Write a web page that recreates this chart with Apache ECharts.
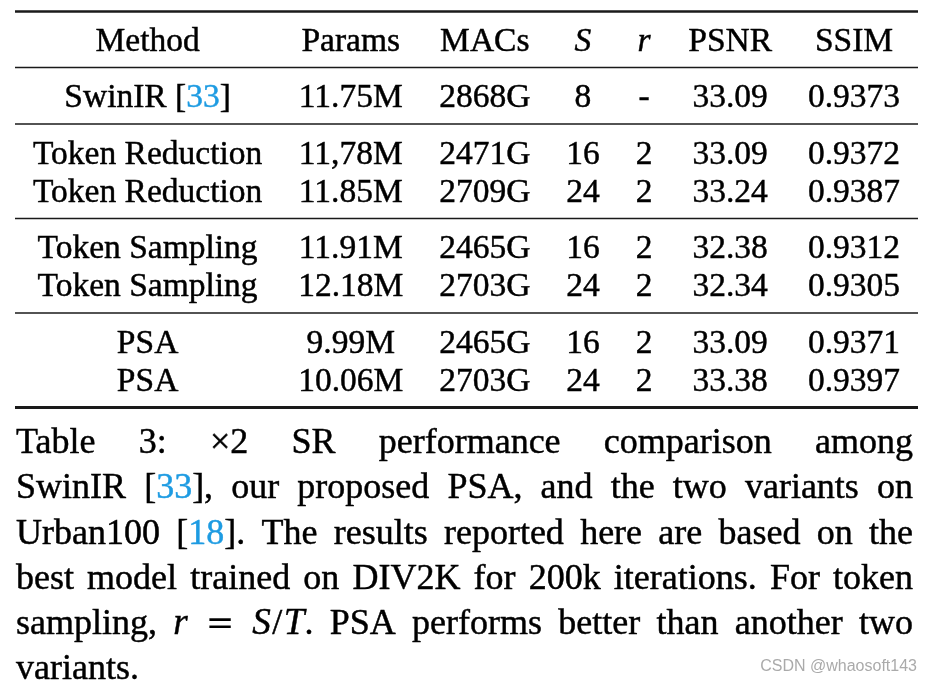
<!DOCTYPE html>
<html><head><meta charset="utf-8">
<script src="https://cdn.jsdelivr.net/npm/echarts@6/dist/echarts.min.js"></script>
<style>html,body{margin:0;padding:0;background:#fff}#c{width:932px;height:685px}</style>
</head><body><div id="c"></div>
<script>
// ---- data ----
const headers = ['Method', 'Params', 'MACs', 'S', 'r', 'PSNR', 'SSIM'];
const headerItalic = [false, false, false, true, true, false, false];
const methods = ['SwinIR [{b|33}]', 'Token Reduction', 'Token Reduction', 'Token Sampling', 'Token Sampling', 'PSA', 'PSA'];
const params = ['11.75M', '11,78M', '11.85M', '11.91M', '12.18M', '9.99M', '10.06M'];
const macs = ['2868G', '2471G', '2709G', '2465G', '2703G', '2465G', '2703G'];
const sValues = ['8', '16', '24', '16', '24', '16', '24'];
const rValues = ['-', '2', '2', '2', '2', '2', '2'];
const psnr = ['33.09', '33.09', '33.24', '32.38', '32.34', '33.09', '33.38'];
const ssim = ['0.9373', '0.9372', '0.9387', '0.9312', '0.9305', '0.9371', '0.9397'];
const rowGroups = [0, 1, 1, 2, 2, 3, 3];
const captionLines = [
  ['Table', '3:', '\u00d72', 'SR', 'performance', 'comparison', 'among'],
  ['SwinIR', '[{b|33}],', 'our', 'proposed', 'PSA,', 'and', 'the', 'two', 'variants', 'on'],
  ['Urban100', '[{b|18}].', 'The', 'results', 'reported', 'here', 'are', 'based', 'on', 'the'],
  ['best', 'model', 'trained', 'on', 'DIV2K', 'for', '200k', 'iterations.', 'For', 'token'],
  ['sampling,', '{j|r}{s|0.5}{m|=}{s|0.5}{j|S}{s|0.04}/{s|0.04}{j|T}.', 'PSA', 'performs', 'better', 'than', 'another', 'two'],
  ['variants.']
];
const watermark = 'CSDN @whaosoft143';

// ---- style / layout ----
const SERIF = '"Liberation Serif","Times New Roman",serif';
const MATH = '"DejaVu Serif",serif';
const TEXT_COLOR = '#000';
const LINK_COLOR = '#1d9be2';
const TABLE_FS = 33.5, CAP_FS = 36;
const TABLE_W = 903, TABLE_LEFT = 15;
const ROW_PX = 38, GAP = 18.5 / 38, RULE_OFF = 17.5 / 38;
const Y_MIN = -1.2, Y_MAX = 9.6;
const GRID_TOP = 50 - (0 - Y_MIN) * ROW_PX;
const CAP_LEFT = 16, CAP_RIGHT = 913, CAP_BASE0 = 452, CAP_PITCH = 45.3;
const MID = 0.235;
const EMBOLDEN = 0.45;
const KIND = {
  n: { italic: false, scale: 1, fam: SERIF, bold: true },
  b: { italic: false, scale: 1, fam: SERIF, bold: true },
  i: { italic: true, scale: 1, fam: SERIF, bold: true },
  j: { italic: true, scale: 1.03, fam: SERIF, bold: true },
  m: { italic: false, scale: 0.95, fam: MATH, bold: false }
};

const ctx = document.createElement('canvas').getContext('2d');
function fontStr(fs, kind) {
  const k = KIND[kind] || KIND.n;
  return (k.italic ? 'italic ' : '') + (fs * k.scale) + 'px ' + k.fam;
}
function segW(g, fs) {
  if (g.k === 's') return parseFloat(g.t) * fs;
  ctx.font = fontStr(fs, g.k); return ctx.measureText(g.t).width;
}
function parseSegs(s) {
  const segs = []; const re = /\{(\w)\|([^}]*)\}/g; let last = 0, m;
  while ((m = re.exec(s))) {
    if (m.index > last) segs.push({ t: s.slice(last, m.index), k: 'n' });
    segs.push({ t: m[2], k: m[1] }); last = re.lastIndex;
  }
  if (last < s.length) segs.push({ t: s.slice(last), k: 'n' });
  return segs;
}
function segsWidth(segs, fs) { return segs.reduce((a, g) => a + segW(g, fs), 0); }

// column layout from content widths (LaTeX-like: max width + equal padding)
const columns = [methods, params, macs, sValues, rValues, psnr, ssim];
const colW = columns.map((col, c) => Math.max(
  segW({ t: headers[c], k: headerItalic[c] ? 'i' : 'n' }, TABLE_FS),
  ...col.map(v => segsWidth(parseSegs(v), TABLE_FS))));
const pad = (TABLE_W - colW.reduce((a, b) => a + b, 0)) / (2 * columns.length);
const colCenter = []; { let x = 0; colW.forEach(w => { colCenter.push(x + pad + w / 2); x += w + 2 * pad; }); }

function rowUnit(r, g) { return r + g * GAP; }
const cellData = [];
headers.forEach((h, c) => cellData.push([colCenter[c], rowUnit(0, 0), c, -1]));
methods.forEach((m, i) => columns.forEach((col, c) => cellData.push([colCenter[c], rowUnit(i + 1, rowGroups[i] + 1), c, i])));

const ruleData = [[rowUnit(0, 0) - 38.5 / 38, 2.6], [rowUnit(0, 0) + RULE_OFF, 1.5]];
rowGroups.forEach((g, i) => {
  if (i === rowGroups.length - 1 || rowGroups[i + 1] !== g) {
    ruleData.push([rowUnit(i + 1, g + 1) + RULE_OFF, i === rowGroups.length - 1 ? 2.8 : 1.5]);
  }
});

// zrender-level rich token styles (custom series)
const rich = {
  n: { fill: TEXT_COLOR, stroke: TEXT_COLOR, lineWidth: EMBOLDEN, fontSize: TABLE_FS, fontFamily: SERIF },
  b: { fill: LINK_COLOR, stroke: LINK_COLOR, lineWidth: EMBOLDEN, fontSize: TABLE_FS, fontFamily: SERIF }
};

// caption graphic
const graphics = [];
captionLines.forEach((words, li) => {
  const wsegs = words.map(parseSegs);
  const widths = wsegs.map(s => segsWidth(s, CAP_FS));
  const total = widths.reduce((a, b) => a + b, 0);
  const isLast = li === captionLines.length - 1;
  const gap = isLast ? segW({ t: ' ', k: 'n' }, CAP_FS) : (CAP_RIGHT - CAP_LEFT - total) / (words.length - 1);
  const baseY = CAP_BASE0 + li * CAP_PITCH;
  let x = CAP_LEFT;
  wsegs.forEach(segs => {
    segs.forEach(g => {
      if (g.k !== 's') {
        const col = g.k === 'b' ? LINK_COLOR : TEXT_COLOR;
        const k = KIND[g.k] || KIND.n;
        graphics.push({ type: 'text', x: x, y: baseY - MID * CAP_FS * k.scale, silent: true,
          style: { text: g.t, font: fontStr(CAP_FS, g.k), fill: col, stroke: k.bold ? col : null, lineWidth: k.bold ? EMBOLDEN : 0,
            align: 'left', verticalAlign: 'middle' } });
      }
      x += segW(g, CAP_FS);
    });
    x += gap;
  });
});
graphics.push({ type: 'text', right: 15, top: 659, silent: true,
  style: { text: watermark, font: '16px "Liberation Sans", Arial, sans-serif', fill: '#aaaaaa' } });

const chart = echarts.init(document.getElementById('c'), null, { renderer: 'canvas' });
chart.setOption({
  animation: false,
  backgroundColor: '#fff',
  grid: { left: TABLE_LEFT, width: TABLE_W, top: GRID_TOP, height: (Y_MAX - Y_MIN) * ROW_PX },
  xAxis: { type: 'value', min: 0, max: TABLE_W, show: false },
  yAxis: { type: 'value', min: Y_MIN, max: Y_MAX, inverse: true, show: false },
  graphic: graphics,
  series: [
    {
      type: 'custom', data: ruleData, silent: true,
      renderItem: (p, api) => {
        const a = api.coord([0, api.value(0)]), b = api.coord([TABLE_W, api.value(0)]);
        const h = api.value(1);
        return { type: 'rect', shape: { x: a[0], y: a[1] - h / 2, width: b[0] - a[0], height: h }, style: { fill: '#1a1a1a' } };
      }
    },
    {
      type: 'custom', data: cellData, silent: true,
      renderItem: (p, api) => {
        const pt = api.coord([api.value(0), api.value(1)]);
        const c = api.value(2), r = api.value(3);
        const isHead = r < 0;
        const raw = isHead ? headers[c] : columns[c][r];
        const kind = isHead && headerItalic[c] ? 'i' : 'n';
        const y = pt[1] - MID * TABLE_FS;
        if (raw.indexOf('{') >= 0) {
          const txt = parseSegs(raw).map(g => '{' + g.k + '|' + g.t + '}').join('');
          return { type: 'text', x: pt[0], y: y,
            style: { text: txt, font: fontStr(TABLE_FS, 'n'), fill: TEXT_COLOR,
              align: 'center', verticalAlign: 'middle', rich: rich } };
        }
        return { type: 'text', x: pt[0], y: y,
          style: { text: raw, font: fontStr(TABLE_FS, kind), fill: TEXT_COLOR, stroke: TEXT_COLOR, lineWidth: EMBOLDEN,
            align: 'center', verticalAlign: 'middle' } };
      }
    }
  ]
});
</script></body></html>
